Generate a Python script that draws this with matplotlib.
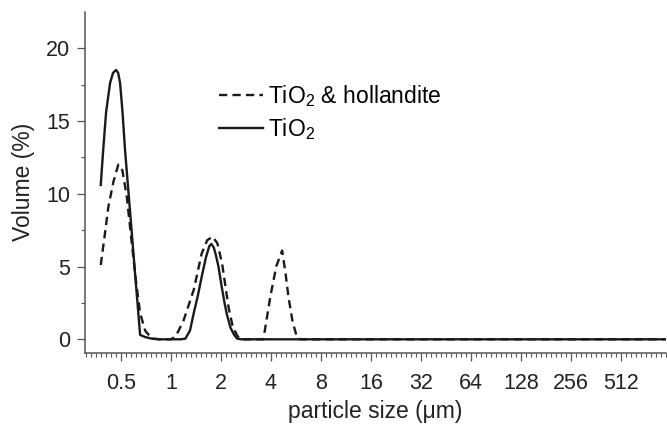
import matplotlib
matplotlib.use('Agg')
import matplotlib.pyplot as plt
import matplotlib.ticker as mticker
import numpy as np

plt.rcParams['font.family'] = ['Liberation Sans', 'DejaVu Sans']
plt.rcParams['mathtext.fontset'] = 'custom'
plt.rcParams['mathtext.rm'] = 'Liberation Sans'
plt.rcParams['mathtext.it'] = 'Liberation Sans:italic'
plt.rcParams['mathtext.default'] = 'regular'

# particle size (um) / volume (%)
size_tio2 = [0.377, 0.390, 0.406, 0.429, 0.447, 0.466, 0.480, 0.493, 0.510, 0.528,
             0.566, 0.607, 0.651, 0.70, 0.76, 0.85, 1.0, 1.15, 1.22, 1.30, 1.37,
             1.45, 1.53, 1.62, 1.70, 1.75, 1.81, 1.87, 1.93, 2.02, 2.10, 2.17,
             2.28, 2.40, 2.50, 2.65, 4.0, 8.0, 16.0, 64.0, 256.0, 950.0]
vol_tio2 = [10.6, 13.0, 15.6, 17.6, 18.3, 18.5, 18.3, 17.6, 15.6, 13.0,
            8.8, 4.5, 0.3, 0.15, 0.05, 0.0, 0.0, 0.0, 0.05, 0.6, 1.8,
            3.0, 4.3, 5.6, 6.4, 6.55, 6.3, 5.7, 5.0, 3.6, 2.5, 1.7,
            0.8, 0.3, 0.05, 0.0, 0.0, 0.0, 0.0, 0.0, 0.0, 0.0]

size_mix = [0.377, 0.400, 0.419, 0.449, 0.481, 0.509, 0.541, 0.580, 0.613, 0.651,
            0.698, 0.766, 0.85, 1.0, 1.03, 1.10, 1.19, 1.37, 1.53, 1.65, 1.78,
            1.90, 2.03, 2.22, 2.35, 2.49, 2.6, 3.0, 3.6, 3.96, 4.3, 4.67, 4.9,
            5.1, 5.4, 5.75, 6.0, 8.0, 16.0, 64.0, 256.0, 950.0]
vol_mix = [5.1, 7.3, 9.1, 10.8, 12.0, 11.6, 9.8, 6.6, 4.1, 1.8,
           0.6, 0.05, 0.0, 0.0, 0.1, 0.5, 1.3, 3.4, 5.9, 6.8, 7.05,
           6.6, 5.2, 2.2, 0.9, 0.3, 0.0, 0.0, 0.0, 2.9, 5.0, 6.1, 4.5,
           2.9, 1.2, 0.1, 0.0, 0.0, 0.0, 0.0, 0.0, 0.0]

xticks = [0.5, 1, 2, 4, 8, 16, 32, 64, 128, 256, 512]
xticklabels = ['0.5', '1', '2', '4', '8', '16', '32', '64', '128', '256', '512']

W, H = 667, 426
fig = plt.figure(figsize=(W / 100, H / 100), dpi=100)
ax = fig.add_axes([85 / W, (H - 352.7) / H, (666 - 85) / W, (352.7 - 12) / H])

ax.plot(size_mix, vol_mix, color='#1a1a1a', lw=1.7, ls=(0, (3.5, 2.2)),
        label=r'TiO$_2$ & hollandite')
ax.plot(size_tio2, vol_tio2, color='#1a1a1a', lw=1.7, label=r'TiO$_2$')

ax.set_xscale('log', base=2)
ax.set_xlim(0.303, 960)
ax.set_ylim(-0.92, 22.48)
ax.set_xticks(xticks)
ax.set_xticklabels(xticklabels)
ax.xaxis.set_minor_locator(mticker.LogLocator(base=2, subs=2 ** (np.arange(1, 10) / 10), numticks=50))
ax.xaxis.set_minor_formatter(mticker.NullFormatter())
ax.set_yticks([0, 5, 10, 15, 20])
ax.yaxis.set_minor_locator(mticker.MultipleLocator(2.5))

for s in ['top', 'right']:
    ax.spines[s].set_visible(False)
for s in ['left', 'bottom']:
    ax.spines[s].set_color('#555555')
    ax.spines[s].set_linewidth(1.1)

ax.tick_params(which='major', length=5.8, width=0.9, color='#555555',
               labelsize=15.5, labelcolor='#222222', pad=5)
ax.tick_params(which='minor', length=3, width=0.8, color='#555555')
ax.tick_params(axis='x', which='major', pad=9)

ax.set_xlabel('particle size (μm)', fontsize=16.5, color='#222222', labelpad=4)
ax.set_ylabel('Volume (%)', fontsize=16.5, color='#222222', labelpad=8)

ax.legend(loc='upper left', bbox_to_anchor=(219 / W, 1 - 83 / H),
          bbox_transform=fig.transFigure, frameon=False, fontsize=16.5,
          handlelength=1.92, handletextpad=0.22, labelspacing=0.3,
          borderpad=0, borderaxespad=0)

fig.savefig('out.png', dpi=100)
